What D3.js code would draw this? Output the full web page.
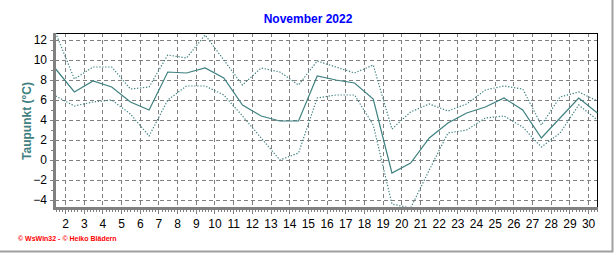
<!DOCTYPE html>
<html>
<head>
<meta charset="utf-8">
<script src="https://cdn.jsdelivr.net/npm/d3@7"></script>
<style>
  body { margin: 0; background: #fff; }
  svg { display: block; font-family: Arial, "Liberation Sans", sans-serif; }
</style>
</head>
<body>
<div id="chart"></div>
<script>
// Taupunkt November 2022 - daily mean, max and min (°C)
var days = [1, 2, 3, 4, 5, 6, 7, 8, 9, 10, 11, 12, 13, 14, 15,
            16, 17, 18, 19, 20, 21, 22, 23, 24, 25, 26, 27, 28, 29, 30];
var dewMean = [9.1, 6.8, 7.9, 7.3, 5.8, 5.0, 8.8, 8.7, 9.2, 8.2, 5.5, 4.4, 3.9, 3.9, 8.4,
               8.0, 7.7, 6.1, -1.3, -0.3, 2.2, 3.7, 4.7, 5.3, 6.2, 5.0, 2.2, 4.2, 6.2, 4.7];
var dewMax  = [12.7, 8.1, 9.3, 9.3, 7.1, 7.3, 10.5, 10.2, 12.5, 10.0, 7.5, 9.2, 8.8, 7.5, 9.9,
               9.3, 8.7, 9.5, 3.1, 4.8, 5.6, 4.9, 5.6, 7.0, 7.4, 7.1, 3.5, 6.3, 6.8, 5.9];
var dewMin  = [6.4, 5.4, 5.8, 6.0, 4.6, 2.4, 6.0, 7.4, 7.4, 6.5, 4.4, 2.2, 0.0, 0.7, 6.2,
               6.5, 6.5, 3.5, -4.4, -4.8, -1.0, 2.7, 3.0, 4.2, 4.4, 3.3, 1.3, 2.7, 5.5, 4.0];
var xTickLabels = [2, 3, 4, 5, 6, 7, 8, 9, 10, 11, 12, 13, 14, 15, 16,
                   17, 18, 19, 20, 21, 22, 23, 24, 25, 26, 27, 28, 29, 30];
var yTickLabels = [-4, -2, 0, 2, 4, 6, 8, 10, 12];

var W = 616, H = 253;
var pLeft = 55, pRight = 597, pTop = 33, pBottom = 207;
var lineColor = "#3f8080";

var svg = d3.select("#chart").append("svg")
    .attr("width", W).attr("height", H);

// each day's value sits at noon, labels at midnight
var x = d3.scaleLinear().domain([1.5, 30.5]).range([pLeft + 0.7, pRight + 0.4]);
var y = d3.scaleLinear().domain([-4.7, 12.7]).range([pBottom, pTop]);

// title
svg.append("text")
    .attr("x", 308).attr("y", 23)
    .attr("text-anchor", "middle")
    .attr("font-size", 12).attr("font-weight", "bold")
    .attr("fill", "#0000ff")
    .text("November 2022");

// grid
var grid = svg.append("g")
    .attr("stroke", "#808080")
    .attr("stroke-dasharray", "4,3")
    .attr("shape-rendering", "crispEdges");
grid.selectAll("line.v").data(xTickLabels).enter().append("line")
    .attr("x1", function(d){ return Math.round(x(d)) + 0.5; })
    .attr("x2", function(d){ return Math.round(x(d)) + 0.5; })
    .attr("y1", pTop).attr("y2", pBottom);
grid.selectAll("line.h").data(yTickLabels).enter().append("line")
    .attr("y1", function(d){ return Math.round(y(d)) + 0.5; })
    .attr("y2", function(d){ return Math.round(y(d)) + 0.5; })
    .attr("x1", pLeft).attr("x2", pRight);

// frame: black top/right, thick gray left/bottom
svg.append("path")
    .attr("d", "M" + pLeft + "," + (pTop + 0.5) + "H" + (pRight + 0.5) + "V" + pBottom)
    .attr("fill", "none").attr("stroke", "#000").attr("shape-rendering", "crispEdges");

// data lines
svg.append("clipPath").attr("id", "plot")
  .append("rect").attr("x", pLeft).attr("y", pTop).attr("width", pRight - pLeft + 1).attr("height", pBottom - pTop);

function lineFor(values) {
    return d3.line()
        .x(function(d, i){ return x(days[i] + 0.5); })
        .y(function(d){ return y(d); })(values);
}
var lines = svg.append("g").attr("clip-path", "url(#plot)").attr("fill", "none");
lines.append("path").attr("d", lineFor(dewMax))
    .attr("stroke", lineColor).attr("stroke-width", 1.2).attr("stroke-dasharray", "1.3,1.7");
lines.append("path").attr("d", lineFor(dewMin))
    .attr("stroke", lineColor).attr("stroke-width", 1.2).attr("stroke-dasharray", "1.3,1.7");
lines.append("path").attr("d", lineFor(dewMean))
    .attr("stroke", lineColor).attr("stroke-width", 1.2);

// axes
var minorX = d3.range(1.5, 30.5001, 1 / 6);
var xMinor = svg.append("g").attr("transform", "translate(0," + (pBottom + 3) + ")")
    .call(d3.axisBottom(x).tickValues(minorX).tickSize(2).tickFormat(""));
var xAxis = svg.append("g").attr("transform", "translate(0," + (pBottom + 3) + ")")
    .call(d3.axisBottom(x).tickValues(xTickLabels).tickSize(4).tickPadding(5).tickFormat(d3.format("d")));
var yMinor = svg.append("g").attr("transform", "translate(" + (pLeft - 2) + ",0)")
    .call(d3.axisLeft(y).tickValues(d3.range(-4, 13, 1)).tickSize(2).tickFormat(""));
var yAxis = svg.append("g").attr("transform", "translate(" + (pLeft - 2) + ",0)")
    .call(d3.axisLeft(y).tickValues(yTickLabels).tickSize(3).tickPadding(3).tickFormat(d3.format("d")));

[xMinor, xAxis, yMinor, yAxis].forEach(function(a){
    a.select(".domain").remove();
    a.selectAll("line").attr("stroke", "#808080").attr("shape-rendering", "crispEdges");
    a.selectAll("text").attr("font-size", 12).attr("fill", "#000")
        .attr("font-family", "Arial, 'Liberation Sans', sans-serif");
});

svg.append("rect").attr("x", pLeft - 2).attr("y", pTop).attr("width", 3).attr("height", pBottom - pTop + 3)
    .attr("fill", "#808080");
svg.append("rect").attr("x", pLeft - 2).attr("y", pBottom).attr("width", pRight - pLeft + 3).attr("height", 3)
    .attr("fill", "#808080");

// y title
svg.append("text")
    .attr("transform", "translate(31,121) rotate(-90)")
    .attr("text-anchor", "middle")
    .attr("font-size", 12).attr("font-weight", "bold")
    .attr("fill", lineColor)
    .text("Taupunkt  (°C)");

// footer
svg.append("text")
    .attr("x", 18).attr("y", 241)
    .attr("font-size", 7).attr("font-weight", "bold")
    .attr("fill", "#ff0000")
    .text("© WsWin32  -  © Heiko Blädern");

// outer panel edge
svg.append("path")
    .attr("d", "M612.5,0V251.5H0")
    .attr("fill", "none").attr("stroke", "#a0a0a0").attr("stroke-width", 2);
</script>
</body>
</html>
